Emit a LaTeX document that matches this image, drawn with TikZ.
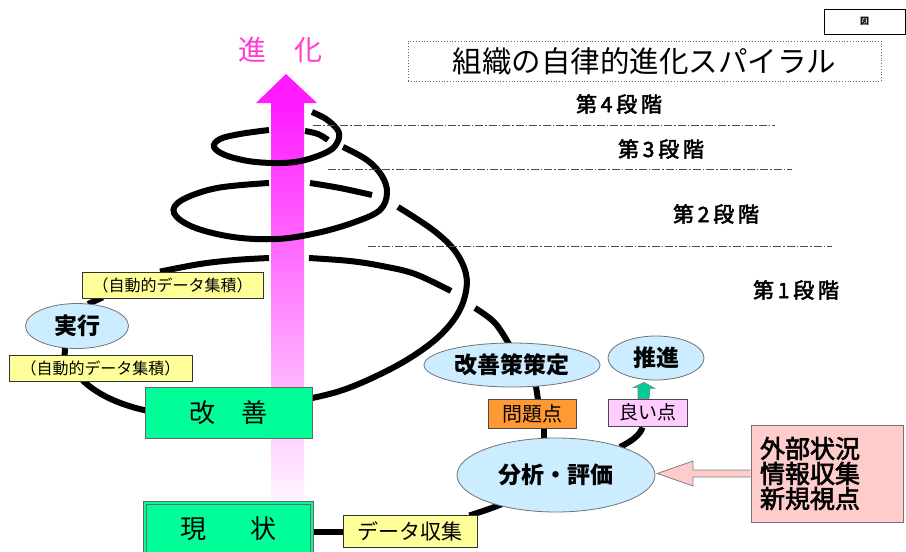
\documentclass[tikz,border=0pt]{standalone}
\usepackage{fontspec}
\setmainfont{Noto Sans CJK JP}
\newfontfamily\semib[FakeBold=2.5]{Noto Sans CJK JP}
\newfontfamily\lvlf[FakeBold=2.5,LetterSpace=18]{Noto Sans CJK JP}
\usetikzlibrary{shapes.geometric,calc}
\pgfdeclarelayer{bgzero}
\pgfdeclarelayer{bgone}
\pgfsetlayers{bgzero,bgone,main}
\definecolor{mag}{RGB}{255,26,255}
\definecolor{magpale}{RGB}{255,246,255}
\definecolor{magtxt}{RGB}{255,60,210}
\definecolor{spr}{RGB}{0,255,153}
\definecolor{eblue}{RGB}{204,236,255}
\definecolor{ylw}{RGB}{255,255,153}
\definecolor{org}{RGB}{255,153,51}
\definecolor{lil}{RGB}{255,204,255}
\definecolor{pnk}{RGB}{255,204,204}
\definecolor{grn}{RGB}{0,204,153}
\begin{document}
\begin{tikzpicture}[x=1pt,y=-1pt,
  sp/.style={line width=6pt,black},
  ell/.style={ellipse,draw=black!55,fill=eblue,line width=0.8pt,inner sep=0pt,font=\fontsize{23pt}{27pt}\selectfont\bfseries},
  ybox/.style={rectangle,draw=black!80,fill=ylw,line width=0.8pt,inner sep=0pt},
  gbox/.style={rectangle,draw=black!60,fill=spr,line width=0.8pt,inner sep=0pt,minimum width=167pt,minimum height=51pt,font=\fontsize{26pt}{30pt}\selectfont},
  lvl/.style={font=\fontsize{21pt}{24pt}\lvlf},
  dd/.style={black!70,line width=0.7pt,dash pattern=on 8pt off 2pt on 1.5pt off 2pt}]
\useasboundingbox (0,0) rectangle (906,552);
% evolution arrow
\begin{pgfonlayer}{bgzero}
\shade[top color=mag,bottom color=magpale] (271,103) rectangle (304,502);
\fill[mag] (286,74) -- (317,103) -- (256,103) -- cycle;
\end{pgfonlayer}
\node[text=magtxt,font=\fontsize{28pt}{32pt}\selectfont] (shinka) at (280,50) {進　化};
% title and frame
\node[draw=black!60,dotted,line width=0.8pt,minimum width=473pt,minimum height=40pt,inner sep=0pt,font=\fontsize{29.5pt}{33pt}\selectfont] (title) at (644.5,61) {組織の自律的進化スパイラル};
\node[draw=black,line width=0.8pt,minimum width=81pt,minimum height=25pt,inner sep=0pt,font=\fontsize{9pt}{10pt}\selectfont\bfseries] (zu) at (864.5,21.5) {図};
% stage labels and lines
\node[lvl] (l4) at (619,104) {第4段階};
\node[lvl] (l3) at (661,149) {第3段階};
\node[lvl] (l2) at (716,214) {第2段階};
\node[lvl] (l1) at (796,290) {第1段階};
\coordinate (d1a) at (313,125); \coordinate (d1b) at (775,125);
\coordinate (d2a) at (328,169); \coordinate (d2b) at (792,169);
\coordinate (d3a) at (368,246); \coordinate (d3b) at (832,246);
\draw[dd] (d1a) -- (d1b);
\draw[dd] (d2a) -- (d2b);
\draw[dd] (d3a) -- (d3b);
% nodes
\node[gbox] (gai) at (228.5,412.5) {改　善};
\node[gbox,draw=black!60,double=spr,double distance=2.2pt] (gen) at (228.5,528.5) {現\hspace{44pt}状};
\node[ybox,minimum width=181pt,minimum height=26pt,font=\fontsize{16pt}{18pt}\selectfont] (auto1) at (172.5,285) {（自動的データ集積）};
\node[ybox,minimum width=183pt,minimum height=26pt,font=\fontsize{16pt}{18pt}\selectfont] (auto2) at (100.5,368) {（自動的データ集積）};
\node[ell,minimum width=103pt,minimum height=45pt] (jik) at (77,326) {実行};
\node[ell,minimum width=176pt,minimum height=44pt] (kss) at (512,365) {改善策策定};
\node[ell,minimum width=96pt,minimum height=44pt] (sui) at (656,358) {推進};
\node[ell,minimum width=198pt,minimum height=74pt] (bun) at (556,475) {分析・評価};
\node[ybox,fill=org,draw=black!70,minimum width=88pt,minimum height=29pt,font=\fontsize{20pt}{22pt}\selectfont] (mon) at (532,413.5) {問題点};
\node[ybox,fill=lil,draw=black!70,minimum width=79pt,minimum height=27pt,font=\fontsize{19pt}{22pt}\selectfont] (yoi) at (647.5,412.5) {良い点};
\node[ybox,minimum width=134pt,minimum height=32pt,font=\fontsize{21pt}{24pt}\selectfont] (dc) at (410,531) {データ収集};
\node[rectangle,draw=black!55,fill=pnk,line width=0.8pt,minimum width=152pt,minimum height=97pt,inner sep=0pt,text width=134pt,align=left,font=\fontsize{25pt}{25pt}\semib] (ext) at (827,473.5) {外部状況\\情報収集\\新規視点};
% spiral
\begin{pgfonlayer}{bgone}
\draw[sp] plot[smooth,tension=0.6] coordinates {(312,112) (326,119) (337,129) (339,138) (332,149) (315,157) (295,162) (273,163) (248,161) (225,155) (214,147) (220,139) (240,134) (269,130)};
\draw[sp] plot[smooth,tension=0.6] coordinates {(305,131) (318,134) (328,140)};
\draw[sp] plot[smooth,tension=0.6] coordinates {(343,147) (367,160) (382,176) (387,193) (380,210) (355,222) (317,233) (277,239) (233,237) (193,227) (174,213) (182,200) (217,188) (269,183)};
\draw[sp] plot[smooth,tension=0.6] coordinates {(310,183) (340,188) (372,195)};
\coordinate (gaiR) at ($(gai.north east)!0.22!(gai.south east)$);
\draw[sp] plot[smooth,tension=0.6] coordinates {(398,207) (433,230) (455,251) (466,274) (465,296) (455,318) (435,340) (405,361) (370,379) (340,391) (gaiR)};
\draw[sp] plot[smooth,tension=0.6] coordinates {(auto1.north -| 160,0) (200,264) (235,260) (269,258)};
\draw[sp] plot[smooth,tension=0.6] coordinates {(309,258) (350,261) (382,266) (415,274) (451,291)};
\draw[sp] plot[smooth,tension=0.6] coordinates {(475,308) (495,323) (510,346)};
% connectors
\draw[sp] ($(auto1.south west)+(21,-1)$) -- ($(jik.north)+(11,1)$);
\draw[sp] ($(jik.south)+(-12,-1)$) -- ($(auto2.north west)+(56,1)$);
\draw[sp] ($(auto2.south west)+(74,-1)$) .. controls (100,397) and (125,406) .. ($(gai.north west)+(2,24)$);
\draw[sp] (gen.east |- 0,532) -- (dc.west |- 0,532);
\draw[sp] ($(dc.north east)+(-8,1)$) .. controls (480,512) and (490,509) .. (502,504);
\draw[sp] (bun.north -| 544,0) -- (mon.south -| 544,0);
\draw[sp] ($(mon.north)+(6,1)$) -- ($(kss.south)+(24,-1)$);
\draw[sp] (620,447) .. controls (632,441) and (640,435) .. ($(yoi.south)+(-5,1)$);
\end{pgfonlayer}
% green arrow
\draw[draw=black!50,fill=grn,line width=0.6pt] ($(yoi.north)+(-9.5,0)$) -- ++(0,-11) -- ++(-5,0) -- ($(sui.south)+(-12,2)$) -- ++(11,6) -- ++(-5,0) -- ($(yoi.north)+(1.5,0)$) -- cycle;
% hollow arrow
\draw[draw=black!50,fill=pnk,line width=0.8pt] ($(ext.west)+(0,-3.5)$) -- (693,470) -- (693,461) -- ($(bun.east)+(2,-1.5)$) -- (693,486) -- (693,477) -- ($(ext.west)+(0,3.5)$);
\end{tikzpicture}
\end{document}
